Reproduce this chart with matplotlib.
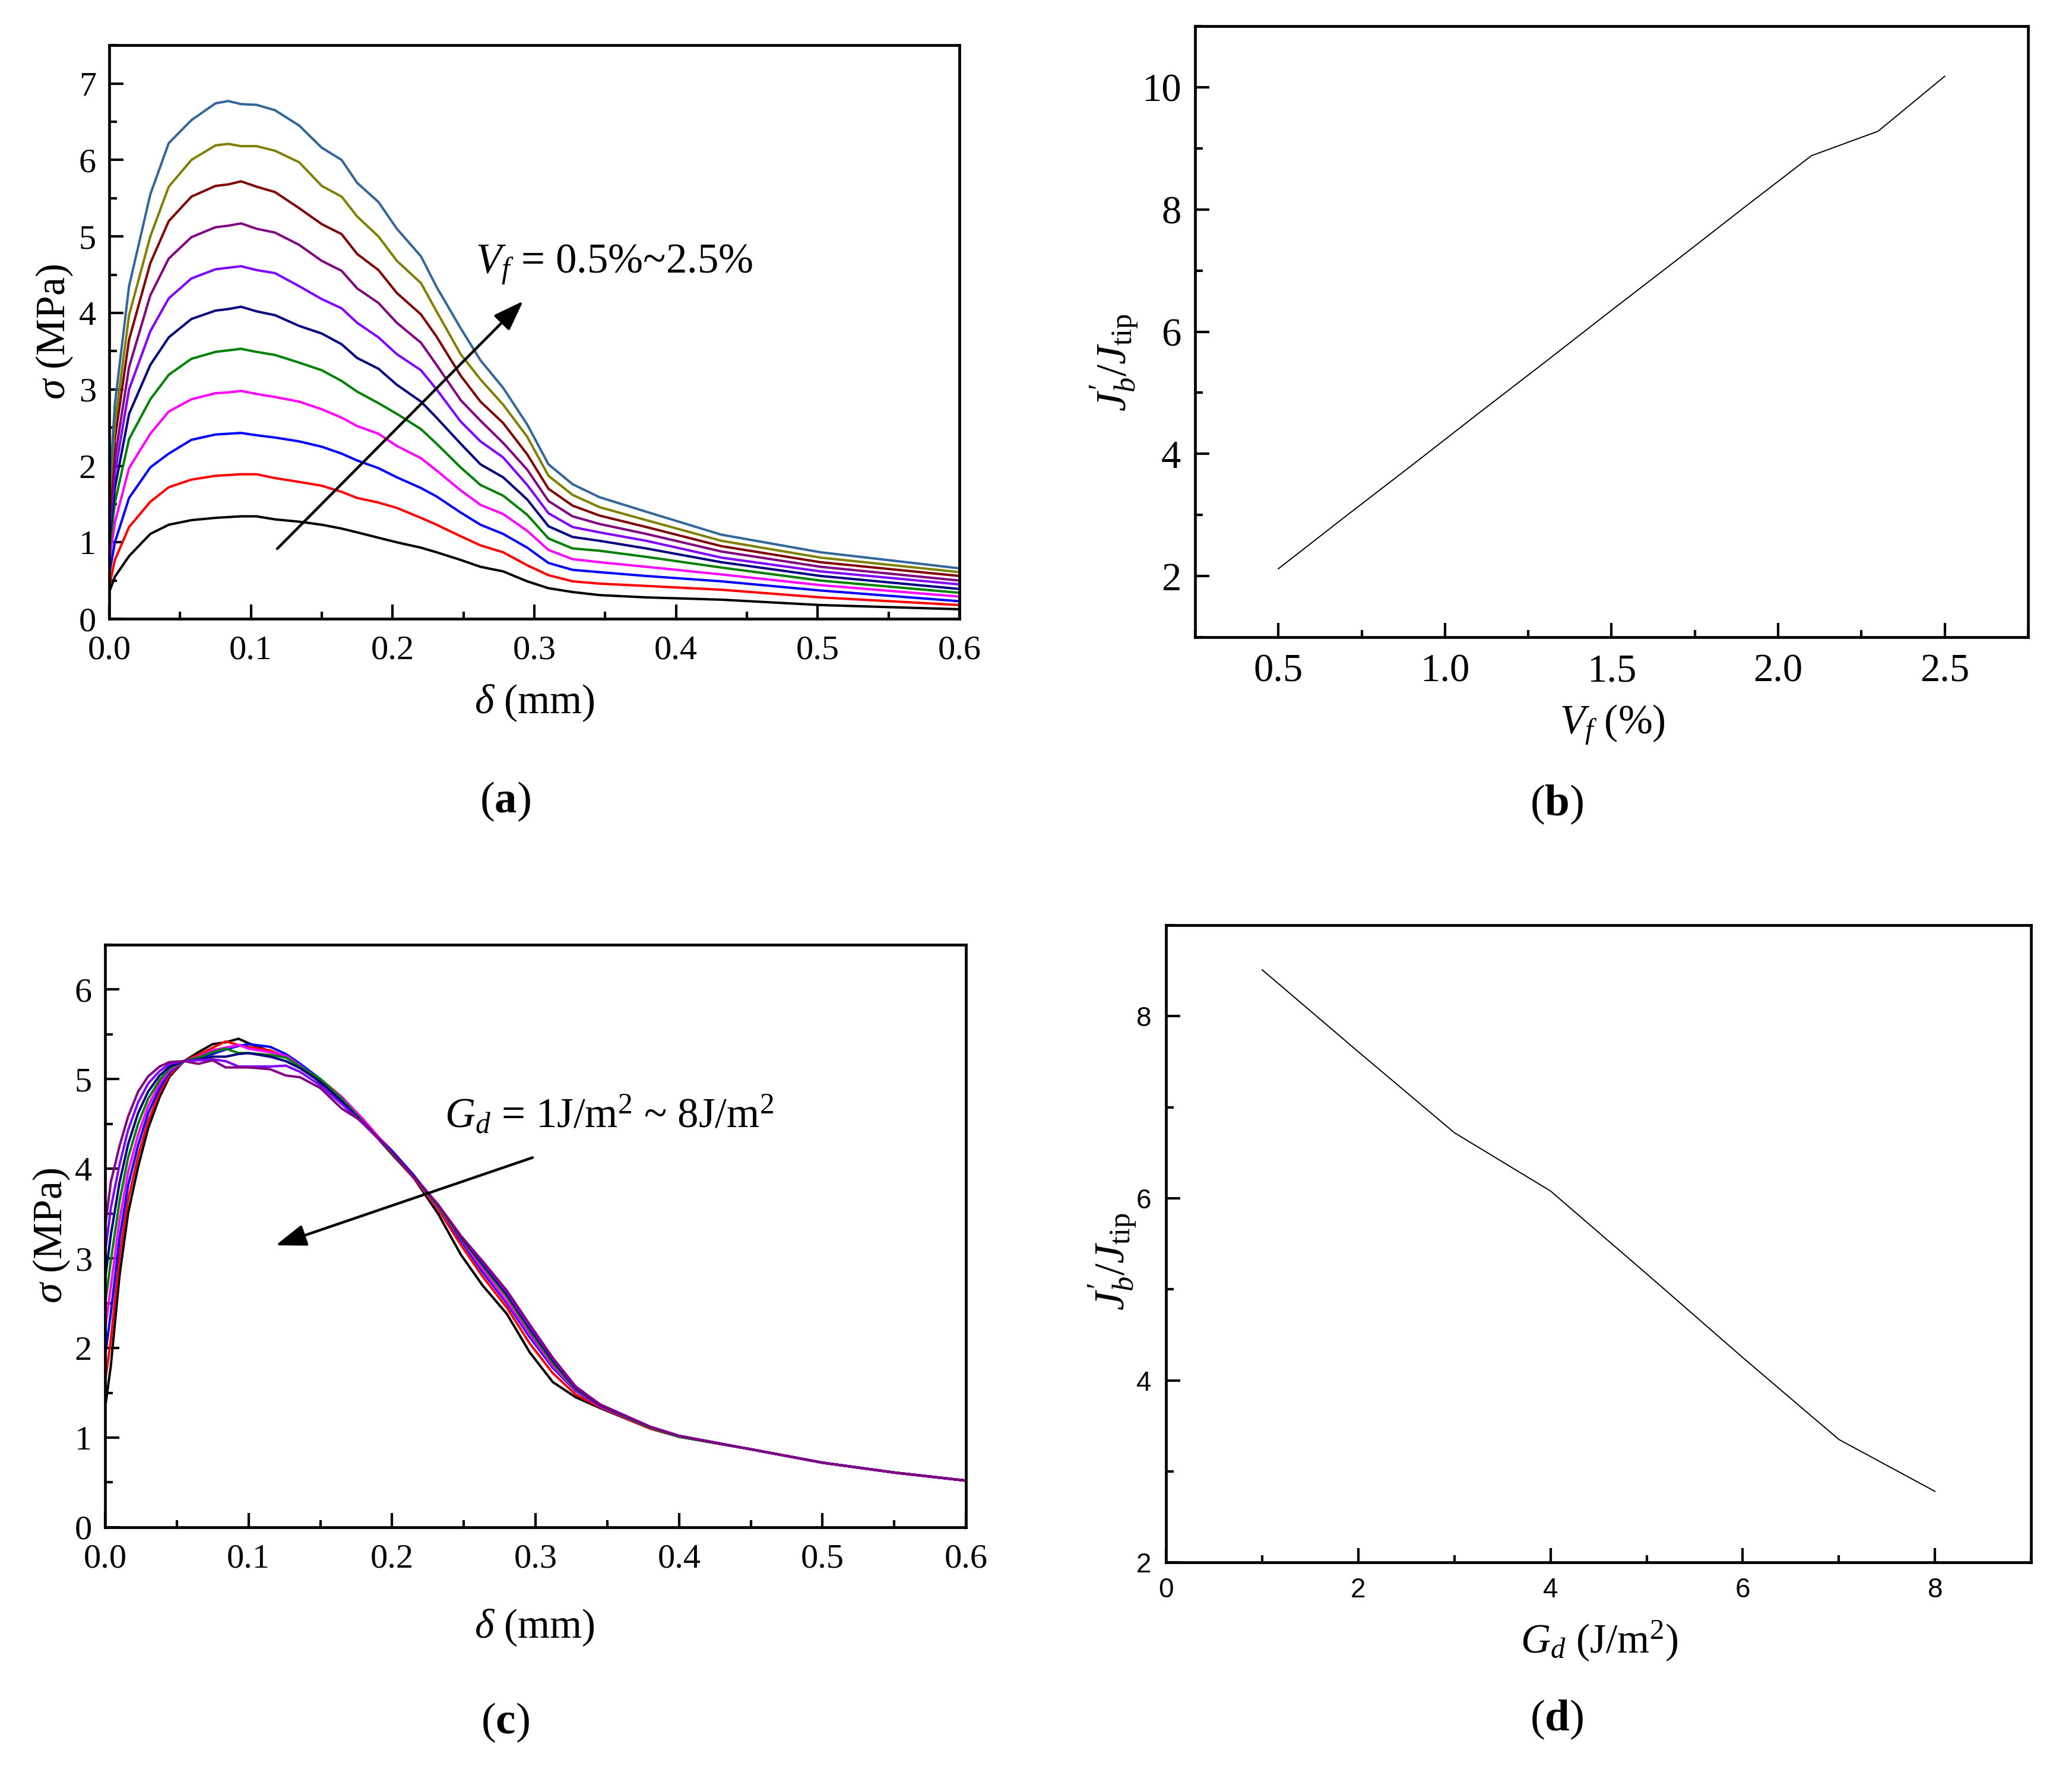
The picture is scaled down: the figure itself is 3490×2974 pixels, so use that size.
import matplotlib
matplotlib.use('Agg')
import matplotlib.pyplot as plt
from matplotlib.ticker import MultipleLocator, FormatStrFormatter

plt.rcParams['font.family'] = ['Liberation Serif', 'DejaVu Serif']
plt.rcParams['mathtext.fontset'] = 'custom'
plt.rcParams['mathtext.rm'] = 'Liberation Serif'
plt.rcParams['mathtext.it'] = 'Liberation Serif:italic'
plt.rcParams['mathtext.bf'] = 'Liberation Serif:bold'

#### (a) stress - opening curves, Vf = 0.5% ... 2.5%
delta_a = [0, 0.004, 0.014, 0.029, 0.042, 0.058, 0.075, 0.084, 0.093, 0.104,
           0.117, 0.134, 0.150, 0.164, 0.175, 0.190, 0.203, 0.220, 0.231, 0.248,
           0.262, 0.278, 0.295, 0.310, 0.327, 0.346, 0.379, 0.432, 0.502, 0.600]
vf05 = [0.35, 0.55, 0.82, 1.11, 1.23, 1.29, 1.32, 1.33, 1.34, 1.34, 1.30, 1.27, 1.23, 1.18, 1.13,
        1.06, 1.00, 0.93, 0.87, 0.77, 0.68, 0.62, 0.49, 0.40, 0.35, 0.31, 0.28, 0.25, 0.18, 0.125]
vf07 = [0.42, 0.77, 1.20, 1.53, 1.72, 1.82, 1.87, 1.88, 1.89, 1.89, 1.84, 1.79, 1.74, 1.66, 1.58,
        1.52, 1.45, 1.32, 1.23, 1.08, 0.96, 0.87, 0.70, 0.57, 0.49, 0.46, 0.43, 0.38, 0.28, 0.18]
vf09 = [0.58, 1.00, 1.58, 1.98, 2.16, 2.34, 2.41, 2.42, 2.43, 2.40, 2.37, 2.32, 2.25, 2.16, 2.07,
        1.97, 1.85, 1.71, 1.60, 1.39, 1.23, 1.11, 0.93, 0.73, 0.64, 0.61, 0.56, 0.49, 0.37, 0.23]
vf11 = [0.74, 1.26, 1.97, 2.42, 2.71, 2.87, 2.95, 2.96, 2.98, 2.94, 2.90, 2.84, 2.74, 2.63, 2.52,
        2.42, 2.26, 2.10, 1.94, 1.68, 1.49, 1.37, 1.15, 0.90, 0.78, 0.74, 0.68, 0.58, 0.44, 0.29]
vf13 = [0.87, 1.52, 2.35, 2.87, 3.19, 3.40, 3.49, 3.51, 3.53, 3.49, 3.45, 3.35, 3.25, 3.11, 2.97,
        2.82, 2.68, 2.48, 2.29, 1.98, 1.75, 1.61, 1.36, 1.05, 0.92, 0.89, 0.81, 0.67, 0.50, 0.34]
vf15 = [1.00, 1.71, 2.68, 3.32, 3.68, 3.92, 4.03, 4.05, 4.08, 4.02, 3.97, 3.83, 3.73, 3.59, 3.41,
        3.27, 3.06, 2.84, 2.63, 2.29, 2.02, 1.85, 1.56, 1.21, 1.07, 1.02, 0.92, 0.74, 0.56, 0.39]
vf17 = [1.13, 1.90, 3.00, 3.76, 4.19, 4.45, 4.57, 4.59, 4.61, 4.56, 4.52, 4.35, 4.18, 4.06, 3.87,
        3.68, 3.46, 3.25, 3.00, 2.58, 2.32, 2.11, 1.75, 1.38, 1.20, 1.13, 1.02, 0.80, 0.62, 0.45]
vf19 = [1.26, 2.10, 3.29, 4.23, 4.71, 4.99, 5.12, 5.14, 5.17, 5.10, 5.05, 4.89, 4.68, 4.55, 4.32,
        4.13, 3.87, 3.61, 3.32, 2.86, 2.59, 2.30, 1.95, 1.54, 1.34, 1.24, 1.11, 0.88, 0.68, 0.50]
vf21 = [1.39, 2.35, 3.65, 4.65, 5.20, 5.52, 5.66, 5.68, 5.72, 5.65, 5.58, 5.37, 5.16, 5.03, 4.77,
        4.56, 4.26, 3.98, 3.69, 3.18, 2.84, 2.56, 2.15, 1.70, 1.48, 1.35, 1.20, 0.95, 0.74, 0.56]
vf23 = [1.52, 2.55, 3.97, 5.00, 5.65, 6.00, 6.19, 6.21, 6.18, 6.18, 6.12, 5.97, 5.66, 5.52, 5.26,
        5.00, 4.68, 4.39, 4.02, 3.46, 3.13, 2.80, 2.38, 1.87, 1.62, 1.46, 1.29, 1.02, 0.80, 0.61]
vf25 = [1.65, 2.81, 4.35, 5.55, 6.22, 6.52, 6.74, 6.77, 6.73, 6.72, 6.65, 6.45, 6.16, 6.00, 5.70,
        5.45, 5.10, 4.74, 4.34, 3.80, 3.38, 3.02, 2.54, 2.02, 1.76, 1.59, 1.40, 1.10, 0.87, 0.66]
curves_a = [vf05, vf07, vf09, vf11, vf13, vf15, vf17, vf19, vf21, vf23, vf25]
colors_a = ['#000000', '#FF0000', '#0000FF', '#FF00FF', '#008000', '#000080',
            '#8000FF', '#800080', '#800000', '#808000', '#336699']

#### (b) Jb'/Jtip vs Vf
vf_b = [0.5, 0.7, 0.9, 1.1, 1.3, 1.5, 1.7, 1.9, 2.1, 2.3, 2.5]
ratio_b = [2.12, 2.97, 3.81, 4.66, 5.50, 6.35, 7.19, 8.04, 8.88, 9.28, 10.18]

#### (c) stress - opening curves, Gd = 1 ... 8 J/m2
delta_c = [0, 0.004, 0.010, 0.016, 0.023, 0.030, 0.038, 0.045, 0.055, 0.065, 0.075, 0.084,
           0.093, 0.100, 0.115, 0.126, 0.136, 0.150, 0.165, 0.180, 0.200, 0.215, 0.232, 0.248,
           0.263, 0.280, 0.296, 0.312, 0.328, 0.345, 0.38, 0.40, 0.45, 0.50, 0.55, 0.60]
gd1 = [1.33, 1.80, 2.80, 3.50, 4.02, 4.45, 4.80, 5.03, 5.20, 5.30, 5.39, 5.41, 5.45, 5.40, 5.31, 5.25,
       5.15, 4.96, 4.78, 4.52, 4.16, 3.90, 3.50, 3.04, 2.70, 2.38, 1.95, 1.62, 1.45, 1.33, 1.10, 1.01,
       0.87, 0.72, 0.61, 0.52]
gd2 = [1.62, 2.09, 3.01, 3.65, 4.14, 4.53, 4.85, 5.05, 5.20, 5.27, 5.35, 5.42, 5.38, 5.36, 5.32, 5.25,
       5.15, 5.00, 4.80, 4.53, 4.17, 3.90, 3.55, 3.15, 2.80, 2.45, 2.05, 1.72, 1.48, 1.34, 1.10, 1.01,
       0.87, 0.72, 0.61, 0.52]
gd3 = [1.91, 2.39, 3.21, 3.81, 4.26, 4.62, 4.90, 5.08, 5.20, 5.24, 5.28, 5.33, 5.37, 5.39, 5.36, 5.28,
       5.17, 5.00, 4.78, 4.52, 4.20, 3.93, 3.58, 3.20, 2.85, 2.50, 2.12, 1.78, 1.52, 1.35, 1.11, 1.01,
       0.87, 0.72, 0.61, 0.52]
gd4 = [2.20, 2.68, 3.42, 3.96, 4.38, 4.70, 4.95, 5.10, 5.20, 5.25, 5.32, 5.35, 5.38, 5.34, 5.30, 5.26,
       5.15, 4.98, 4.80, 4.55, 4.18, 3.91, 3.57, 3.22, 2.88, 2.52, 2.15, 1.80, 1.53, 1.35, 1.11, 1.01,
       0.87, 0.72, 0.61, 0.52]
gd5 = [2.48, 2.97, 3.63, 4.12, 4.50, 4.78, 4.99, 5.12, 5.20, 5.24, 5.30, 5.34, 5.29, 5.29, 5.27, 5.24,
       5.14, 5.00, 4.78, 4.52, 4.17, 3.91, 3.58, 3.23, 2.92, 2.57, 2.19, 1.83, 1.54, 1.36, 1.11, 1.01,
       0.87, 0.72, 0.61, 0.52]
gd6 = [2.77, 3.26, 3.84, 4.27, 4.62, 4.86, 5.04, 5.14, 5.20, 5.22, 5.25, 5.25, 5.28, 5.29, 5.25, 5.20,
       5.12, 4.97, 4.75, 4.51, 4.18, 3.92, 3.60, 3.24, 2.94, 2.60, 2.22, 1.86, 1.55, 1.36, 1.12, 1.02,
       0.87, 0.72, 0.61, 0.52]
gd7 = [3.06, 3.56, 4.04, 4.43, 4.74, 4.95, 5.09, 5.17, 5.20, 5.21, 5.22, 5.20, 5.14, 5.14, 5.14, 5.15,
       5.08, 4.93, 4.72, 4.50, 4.18, 3.91, 3.60, 3.25, 2.96, 2.62, 2.24, 1.88, 1.56, 1.37, 1.12, 1.02,
       0.87, 0.72, 0.61, 0.52]
gd8 = [3.35, 3.85, 4.25, 4.58, 4.86, 5.03, 5.14, 5.19, 5.20, 5.17, 5.21, 5.13, 5.13, 5.13, 5.11, 5.04,
       5.02, 4.90, 4.67, 4.52, 4.18, 3.91, 3.60, 3.25, 2.97, 2.64, 2.26, 1.89, 1.57, 1.37, 1.12, 1.02,
       0.87, 0.72, 0.61, 0.52]
curves_c = [gd1, gd2, gd3, gd4, gd5, gd6, gd7, gd8]
colors_c = ['#000000', '#FF0000', '#0000FF', '#FF00FF', '#008000', '#000080', '#8000FF', '#800080']

#### (d) Jb'/Jtip vs Gd
gd_d = [1, 2, 3, 4, 5, 6, 7, 8]
ratio_d = [8.51, 7.61, 6.72, 6.08, 5.17, 4.25, 3.35, 2.78]

ylab_J = r"$J^{\prime}_{b}/J_{\rm tip}$"


def style_axes(ax, tick_size=42, xpad=20, ypad=16, family=None):
    for sp in ax.spines.values():
        sp.set_linewidth(3.4)
    ax.tick_params(which='both', direction='in', top=False, right=False, width=3.0)
    ax.tick_params(which='major', length=17)
    ax.tick_params(which='minor', length=9)
    ax.tick_params(axis='x', which='major', labelsize=tick_size, pad=xpad)
    ax.tick_params(axis='y', which='major', labelsize=tick_size, pad=ypad)
    if family is not None:
        for lab in ax.get_xticklabels() + ax.get_yticklabels():
            lab.set_family(family)


fig = plt.figure(figsize=(34.91, 29.74), dpi=100)

# ---- (a)
ax = fig.add_axes([0.0527, 0.6496, 0.4102, 0.3248])
for y, c in zip(curves_a, colors_a):
    ax.plot(delta_a, y, color=c, lw=2.9)
ax.set_xlim(0, 0.6)
ax.set_ylim(0, 7.5)
ax.xaxis.set_major_locator(MultipleLocator(0.1))
ax.xaxis.set_minor_locator(MultipleLocator(0.05))
ax.yaxis.set_major_locator(MultipleLocator(1))
ax.yaxis.set_minor_locator(MultipleLocator(0.5))
ax.xaxis.set_major_formatter(FormatStrFormatter('%.1f'))
ax.yaxis.set_major_formatter(FormatStrFormatter('%d'))
style_axes(ax)
ax.annotate('', xy=(0.293, 4.17), xytext=(0.1177, 0.90),
            arrowprops=dict(arrowstyle='-|>,head_length=0.45,head_width=0.16',
                            mutation_scale=70, lw=3.2, color='k'))
ax.text(0.2586, 4.52, r"$V_f$ = 0.5%~2.5%", fontsize=51, ha='left', va='baseline')
ax.set_xlabel(r"$\delta$ (mm)", fontsize=50, va='center')
ax.set_ylabel(r"$\sigma$ (MPa)", fontsize=50, va='center')
ax.xaxis.set_label_coords(0.5, -0.147)
ax.yaxis.set_label_coords(-0.0642, 0.5)

# ---- (b)
ax = fig.add_axes([0.5766, 0.6392, 0.4019, 0.3460])
ax.plot(vf_b, ratio_b, color='k', lw=1.4)
ax.set_xlim(0.25, 2.75)
ax.set_ylim(1, 11)
ax.xaxis.set_major_locator(MultipleLocator(0.5))
ax.xaxis.set_minor_locator(MultipleLocator(0.25))
ax.yaxis.set_major_locator(MultipleLocator(2))
ax.yaxis.set_minor_locator(MultipleLocator(1))
ax.set_xticks([0.5, 1.0, 1.5, 2.0, 2.5])
ax.set_yticks([2, 4, 6, 8, 10])
ax.xaxis.set_major_formatter(FormatStrFormatter('%.1f'))
ax.yaxis.set_major_formatter(FormatStrFormatter('%d'))
style_axes(ax, tick_size=48, xpad=20, ypad=17)
ax.set_xlabel(r"$V_f$ (%)", fontsize=50, va='center')
ax.set_ylabel(ylab_J, fontsize=52, va='center')
ax.xaxis.set_label_coords(0.501, -0.1438)
ax.yaxis.set_label_coords(-0.097, 0.449)

# ---- (c)
ax = fig.add_axes([0.0507, 0.1352, 0.4154, 0.3299])
for y, c in zip(curves_c, colors_c):
    ax.plot(delta_c, y, color=c, lw=2.9)
ax.set_xlim(0, 0.6)
ax.set_ylim(0, 6.5)
ax.xaxis.set_major_locator(MultipleLocator(0.1))
ax.xaxis.set_minor_locator(MultipleLocator(0.05))
ax.yaxis.set_major_locator(MultipleLocator(1))
ax.yaxis.set_minor_locator(MultipleLocator(0.5))
ax.xaxis.set_major_formatter(FormatStrFormatter('%.1f'))
ax.yaxis.set_major_formatter(FormatStrFormatter('%d'))
style_axes(ax)
ax.annotate('', xy=(0.1178, 3.14), xytext=(0.299, 4.13),
            arrowprops=dict(arrowstyle='-|>,head_length=0.45,head_width=0.16',
                            mutation_scale=70, lw=3.2, color='k'))
ax.text(0.2365, 4.46, r"$G_d$ = 1J/m$^2$ ~ 8J/m$^2$", fontsize=51, ha='left', va='baseline')
ax.set_xlabel(r"$\delta$ (mm)", fontsize=50, va='center')
ax.set_ylabel(r"$\sigma$ (MPa)", fontsize=50, va='center')
ax.xaxis.set_label_coords(0.4986, -0.1723)
ax.yaxis.set_label_coords(-0.062, 0.5)

# ---- (d)
ax = fig.add_axes([0.5626, 0.1153, 0.4174, 0.3608])
ax.plot(gd_d, ratio_d, color='k', lw=1.4)
ax.set_xlim(0, 9)
ax.set_ylim(2, 9)
ax.xaxis.set_major_locator(MultipleLocator(2))
ax.xaxis.set_minor_locator(MultipleLocator(1))
ax.yaxis.set_major_locator(MultipleLocator(2))
ax.yaxis.set_minor_locator(MultipleLocator(1))
ax.xaxis.set_major_formatter(FormatStrFormatter('%d'))
ax.yaxis.set_major_formatter(FormatStrFormatter('%d'))
style_axes(ax, tick_size=33, xpad=18, ypad=18, family='Liberation Sans')
ax.set_xlabel(r"$G_d$ (J/m$^2$)", fontsize=50, va='center')
ax.set_ylabel(ylab_J, fontsize=52, va='center')
ax.xaxis.set_label_coords(0.501, -0.124)
ax.yaxis.set_label_coords(-0.062, 0.472)

# panel letters
for x, y, s in [(0.2438, 0.5461, 'a'), (0.7511, 0.5444, 'b'),
                (0.2438, 0.0245, 'c'), (0.7511, 0.0262, 'd')]:
    fig.text(x, y, r"($\mathbf{%s}$)" % s, fontsize=54, ha='center', va='center')

fig.savefig('out.png', dpi=100)
